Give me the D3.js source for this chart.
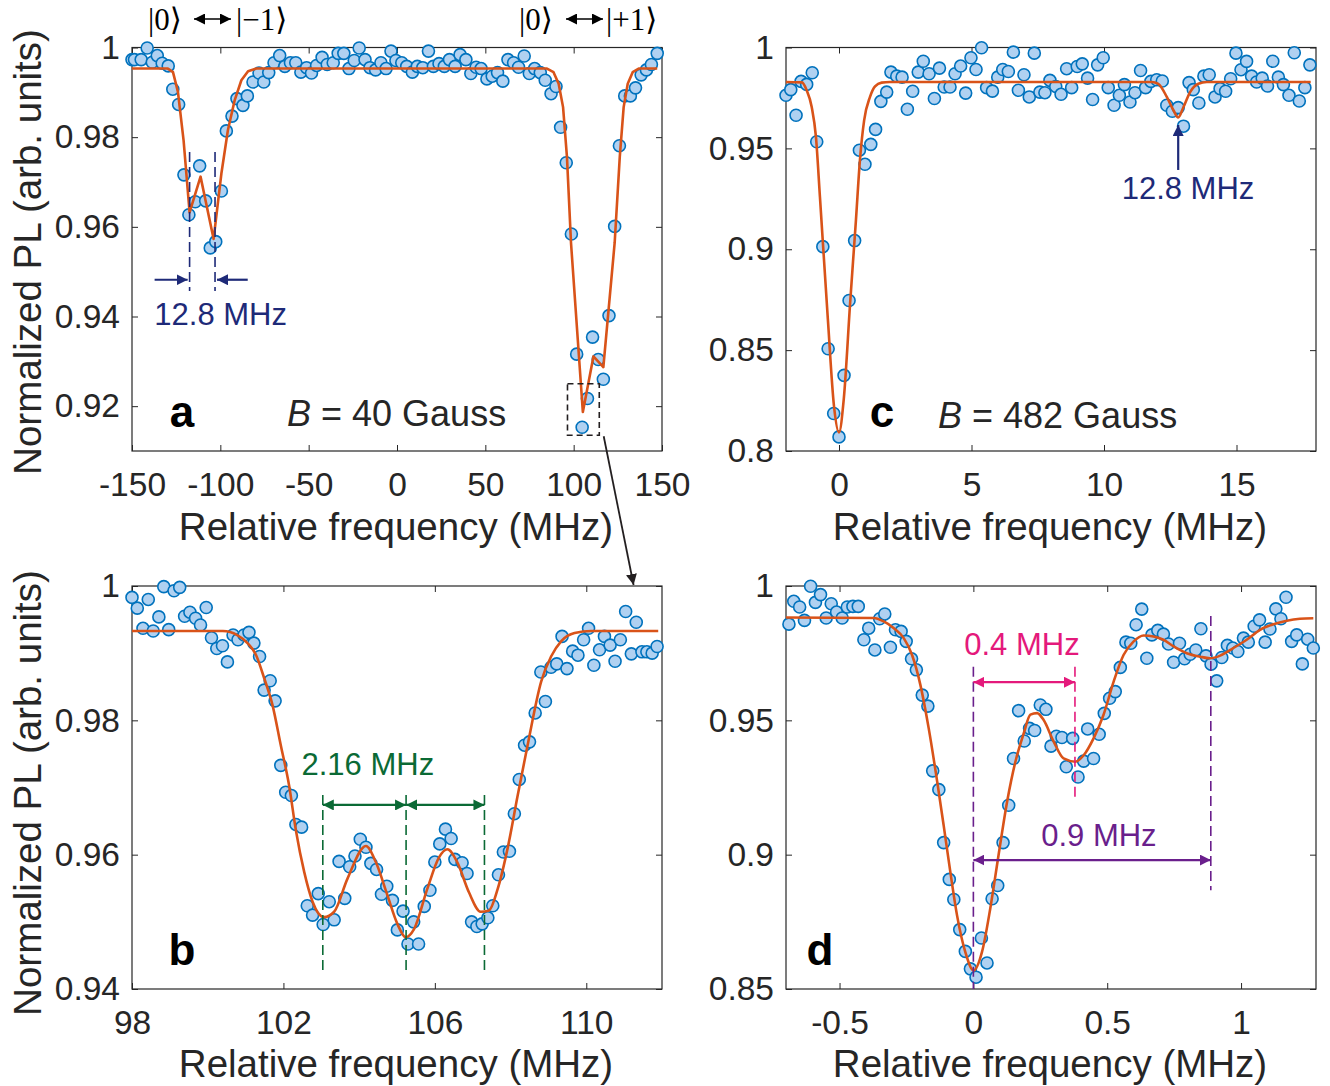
<!DOCTYPE html>
<html>
<head>
<meta charset="utf-8">
<title>ODMR spectra, four panels</title>
<script src="https://d3js.org/d3.v7.min.js"></script>
<style>
body { margin: 0; background: #fff; font-family: 'Liberation Sans', Arial, sans-serif; }
.axis text { font-family: 'Liberation Sans', Arial, sans-serif; font-size: 33.5px; fill: #262626; }
.axis line { stroke: #262626; stroke-width: 1; }
</style>
</head>
<body>
<div id="chart"></div>
<script>
// ---------- data ----------
// panel a : B = 40 G, full spectrum
var aFreq = [-150.0,-148.6,-144.8,-141.4,-138.5,-135.7,-132.9,-129.5,-126.9,-123.6,-120.6,-117.8,-114.2,-111.7,-108.3,-105.7,-102.6,-99.4,-96.6,-93.4,-90.6,-87.2,-84.7,-81.5,-78.1,-75.4,-72.6,-69.6,-66.4,-63.5,-60.3,-57.3,-54.4,-51.2,-48.4,-45.5,-42.4,-39.5,-36.1,-33.3,-30.1,-27.2,-24.2,-21.4,-18.1,-15.3,-12.1,-9.1,-6.2,-3.4,-0.6,2.7,5.5,8.7,11.5,14.6,17.8,20.6,23.8,26.8,29.7,32.9,35.7,39.0,41.8,44.8,47.6,50.9,53.9,56.9,59.9,62.8,66.0,68.8,72.0,74.9,77.9,81.1,83.9,87.2,90.0,92.6,95.8,98.7,101.7,104.8,107.8,110.7,113.9,116.8,120.0,123.2,125.9,128.9,132.1,135.0,138.2,141.2,144.0,147.3];
var aPL = [0.9973,0.9973,0.9973,0.9999,0.9967,0.9982,0.9965,0.9959,0.9907,0.9873,0.9716,0.9627,0.9656,0.9736,0.9658,0.9553,0.9567,0.968,0.9814,0.9847,0.9886,0.9871,0.9892,0.9923,0.9943,0.9923,0.9944,0.9966,0.9982,0.9958,0.9966,0.9966,0.9945,0.9955,0.9943,0.996,0.9978,0.9962,0.9966,0.9987,0.9987,0.9953,0.9971,0.9999,0.9973,0.9955,0.995,0.9966,0.9953,0.9992,0.9971,0.9966,0.9958,0.9945,0.9958,0.9955,0.9992,0.9958,0.9964,0.9958,0.9973,0.9958,0.9984,0.9973,0.9942,0.9956,0.9953,0.993,0.9936,0.9944,0.9925,0.9973,0.9966,0.9956,0.9981,0.9942,0.9953,0.9944,0.9927,0.9897,0.9913,0.9822,0.9743,0.9584,0.9316,0.9153,0.9217,0.9354,0.9304,0.926,0.9402,0.9601,0.9781,0.9892,0.9892,0.991,0.9939,0.995,0.9962,0.9987];
var aFitFreq = [-150,-129.7,-126.8,-124,-120.8,-117.4,-111.2,-103.8,-99.4,-95.7,-91.9,-88.1,-84.3,-79.6,84.9,88.6,91.5,94,96.2,98.5,105.2,111.2,116.8,123.2,126.1,128.3,130.6,133.4,136.8,147.3];
var aFitPL = [0.9953,0.9953,0.9945,0.9901,0.9793,0.9632,0.9712,0.9573,0.9719,0.9816,0.9882,0.9927,0.9947,0.9953,0.9953,0.9945,0.9919,0.9867,0.9756,0.9564,0.9187,0.9311,0.9287,0.9564,0.9756,0.9867,0.9919,0.9945,0.9953,0.9953];

// panel b : zoom on the |0> <-> |+1> line
var bFreq = [98.0,98.14,98.29,98.43,98.56,98.71,98.84,98.97,99.11,99.26,99.39,99.53,99.68,99.81,99.96,100.1,100.24,100.39,100.52,100.67,100.8,100.96,101.09,101.22,101.37,101.49,101.65,101.78,101.93,102.06,102.21,102.33,102.48,102.63,102.77,102.92,103.05,103.21,103.34,103.47,103.62,103.75,103.89,104.03,104.18,104.31,104.46,104.59,104.73,104.88,105.01,105.16,105.29,105.44,105.57,105.72,105.87,106.0,106.13,106.28,106.43,106.53,106.72,106.85,106.97,107.11,107.25,107.4,107.53,107.68,107.81,107.97,108.1,108.23,108.37,108.5,108.65,108.8,108.92,109.07,109.22,109.36,109.49,109.64,109.78,109.93,110.06,110.2,110.35,110.48,110.63,110.76,110.9,111.04,111.19,111.32,111.47,111.6,111.74,111.87];
var bPL = [0.9983,0.9967,0.9937,0.998,0.9933,0.9954,0.9999,0.9935,0.9993,0.9998,0.9955,0.9961,0.9952,0.9942,0.9968,0.9923,0.9907,0.9911,0.9887,0.9927,0.992,0.9927,0.9931,0.9915,0.9895,0.9845,0.9859,0.9829,0.9733,0.9693,0.9688,0.9645,0.9641,0.9524,0.951,0.9542,0.9496,0.953,0.9503,0.959,0.9535,0.9582,0.9598,0.9623,0.9611,0.9587,0.9578,0.9541,0.9553,0.9532,0.9488,0.9516,0.9467,0.95,0.9467,0.9523,0.9547,0.9589,0.9616,0.9638,0.9624,0.9593,0.9588,0.9572,0.95,0.9493,0.9497,0.9506,0.9524,0.957,0.9604,0.9605,0.9661,0.9712,0.9763,0.9768,0.9811,0.9872,0.9828,0.9879,0.9884,0.9925,0.9877,0.9903,0.9897,0.992,0.9937,0.9882,0.9905,0.9925,0.9912,0.9888,0.992,0.9962,0.9899,0.9946,0.9902,0.9902,0.99,0.991];
var bFitFreq = [98,100.4,100.78,101.05,101.27,101.49,101.71,101.93,102.15,102.33,102.55,102.77,103.07,103.34,103.69,104.18,104.44,104.75,105.01,105.23,105.45,105.8,106.11,106.33,106.59,106.9,107.21,107.43,107.66,107.92,108.19,108.45,108.81,109.07,109.34,109.69,110.13,111.9];
var bFitPL = [0.9933,0.9933,0.9927,0.9915,0.9898,0.9863,0.9823,0.9763,0.9703,0.9636,0.9574,0.953,0.9507,0.9515,0.9564,0.9613,0.9589,0.9539,0.9497,0.9477,0.9489,0.9549,0.9596,0.9608,0.9589,0.9544,0.9515,0.9517,0.9549,0.9609,0.9689,0.9763,0.9858,0.9895,0.9918,0.993,0.9933,0.9933];

// panel c : B = 482 G
var cFreq = [-2.0,-1.82,-1.62,-1.43,-1.22,-1.01,-0.84,-0.61,-0.41,-0.2,0,0.19,0.38,0.59,0.77,0.98,1.2,1.38,1.58,1.8,1.96,2.18,2.38,2.58,2.78,2.99,3.18,3.4,3.6,3.79,3.97,4.19,4.38,4.59,4.78,4.98,5.17,5.38,5.57,5.79,5.99,6.18,6.39,6.58,6.77,6.98,7.18,7.37,7.58,7.77,7.96,8.18,8.38,8.59,8.78,8.99,9.18,9.38,9.57,9.76,9.97,10.16,10.38,10.58,10.77,10.98,11.17,11.38,11.57,11.77,11.99,12.2,12.37,12.58,12.8,13.0,13.21,13.37,13.58,13.77,13.97,14.19,14.38,14.59,14.78,14.98,15.17,15.38,15.57,15.76,15.97,16.17,16.37,16.58,16.77,16.98,17.18,17.37,17.58,17.77];
var cPL = [0.9763,0.9791,0.9664,0.9832,0.9817,0.9875,0.9533,0.9013,0.8507,0.8186,0.807,0.8375,0.8746,0.9043,0.9491,0.9421,0.952,0.9594,0.9733,0.9779,0.9878,0.9858,0.9853,0.9694,0.9783,0.9878,0.9932,0.987,0.9747,0.9898,0.9804,0.9804,0.987,0.9908,0.9774,0.9949,0.9891,0.9999,0.9801,0.9784,0.9853,0.9891,0.9881,0.9977,0.9788,0.9865,0.9755,0.9972,0.9779,0.9776,0.9837,0.9807,0.9768,0.9895,0.9801,0.9906,0.9919,0.9848,0.9742,0.9914,0.9949,0.9801,0.9714,0.9763,0.9816,0.973,0.9776,0.9886,0.9801,0.9832,0.984,0.9834,0.9714,0.9684,0.9702,0.961,0.9826,0.9791,0.9725,0.9858,0.9865,0.9755,0.9796,0.9783,0.9845,0.9972,0.989,0.9931,0.9858,0.9829,0.9848,0.9809,0.9932,0.9853,0.9816,0.9763,0.9974,0.9735,0.9801,0.9914];
var cFitFreq = [-2,-1.4,-1.22,-1.03,-0.87,-0.72,-0.42,-0.19,0,0.18,0.42,0.64,0.79,0.95,1.17,1.36,1.61,1.92,11.8,12.05,12.37,12.62,12.8,13.0,13.25,13.56,13.88,17.8];
var cFitPL = [0.9829,0.9827,0.9788,0.9705,0.9557,0.9261,0.8652,0.8224,0.8092,0.8257,0.8734,0.9146,0.9442,0.964,0.9755,0.9807,0.9826,0.9829,0.9829,0.982,0.9755,0.9689,0.9653,0.9705,0.9779,0.982,0.9829,0.9829];

// panel d : zoom on the central line at 482 G
var dFreq = [-0.689,-0.671,-0.649,-0.631,-0.608,-0.59,-0.571,-0.55,-0.531,-0.511,-0.49,-0.471,-0.45,-0.43,-0.409,-0.391,-0.368,-0.35,-0.331,-0.31,-0.291,-0.27,-0.251,-0.231,-0.213,-0.191,-0.17,-0.152,-0.129,-0.111,-0.09,-0.073,-0.051,-0.03,-0.011,0.01,0.03,0.051,0.07,0.091,0.111,0.132,0.15,0.169,0.19,0.21,0.229,0.25,0.271,0.29,0.31,0.331,0.347,0.371,0.391,0.412,0.427,0.449,0.47,0.489,0.509,0.53,0.549,0.57,0.588,0.608,0.629,0.648,0.667,0.689,0.71,0.729,0.748,0.77,0.789,0.81,0.831,0.85,0.869,0.888,0.909,0.928,0.949,0.969,0.988,1.009,1.027,1.049,1.069,1.09,1.108,1.13,1.149,1.168,1.189,1.208,1.229,1.249,1.27];
var dPL = [0.9858,0.9943,0.9922,0.9872,0.9999,0.9939,0.9968,0.9881,0.9934,0.9903,0.9881,0.9922,0.9924,0.9924,0.98,0.9843,0.9762,0.9878,0.9896,0.9772,0.9837,0.9831,0.9794,0.9729,0.9688,0.9594,0.9553,0.9312,0.9242,0.9045,0.8908,0.8833,0.8721,0.864,0.8575,0.8544,0.869,0.8597,0.8836,0.8885,0.9045,0.9184,0.9358,0.9536,0.9423,0.947,0.9462,0.9557,0.9541,0.9404,0.9441,0.9436,0.9327,0.9433,0.9289,0.9348,0.9468,0.9358,0.9448,0.9526,0.9582,0.9607,0.9697,0.9791,0.9787,0.9856,0.9914,0.9731,0.9818,0.9835,0.9821,0.9784,0.9716,0.9787,0.9729,0.9746,0.9762,0.9841,0.974,0.9709,0.9647,0.9734,0.9779,0.9769,0.9756,0.9806,0.9791,0.985,0.9874,0.9791,0.984,0.9915,0.9878,0.9958,0.9794,0.9818,0.971,0.9802,0.9769];
var dFitFreq = [-0.7,-0.372,-0.335,-0.297,-0.26,-0.229,-0.198,-0.167,-0.135,-0.111,-0.086,-0.061,-0.03,0.001,0.032,0.063,0.094,0.126,0.157,0.188,0.213,0.238,0.262,0.3,0.337,0.381,0.412,0.449,0.486,0.524,0.561,0.598,0.636,0.673,0.71,0.748,0.797,0.847,0.884,0.922,0.971,1.021,1.071,1.121,1.171,1.22,1.27];
var dFitPL = [0.9883,0.9881,0.9868,0.9843,0.9806,0.9743,0.9632,0.9471,0.9271,0.9109,0.8935,0.8774,0.8637,0.8569,0.8637,0.8799,0.8998,0.9197,0.9346,0.9451,0.9521,0.9527,0.9502,0.9421,0.9358,0.9346,0.937,0.9433,0.952,0.9644,0.9743,0.9793,0.9816,0.9812,0.98,0.9775,0.975,0.9737,0.9731,0.9741,0.9769,0.98,0.9837,0.9858,0.9871,0.9878,0.988];

// tick values
var aXTicks = [-150,-100,-50,0,50,100,150], aYTicks = [0.92,0.94,0.96,0.98,1];
var bXTicks = [98,102,106,110], bYTicks = [0.94,0.96,0.98,1];
var cXTicks = [0,5,10,15], cYTicks = [0.8,0.85,0.9,0.95,1];
var dXTicks = [-0.5,0,0.5,1], dYTicks = [0.85,0.9,0.95,1];

// ---------- drawing ----------
var svg = d3.select("#chart").append("svg")
  .attr("width", 1330).attr("height", 1086)
  .style("font-family", "'Liberation Sans', Arial, sans-serif");

var ink = "#262626", blue = "#0072bd", fill = "#b0d1f1", orange = "#d95319";
var navy = "#1e2a78", green = "#0b6a35", pink = "#e4197b", purple = "#6a1f8c";

var defs = svg.append("defs");
function arrowMarker(id, color) {
  defs.append("marker").attr("id", id)
    .attr("viewBox", "0 0 10 10").attr("refX", 10).attr("refY", 5)
    .attr("markerUnits", "userSpaceOnUse").attr("markerWidth", 11).attr("markerHeight", 11)
    .attr("orient", "auto-start-reverse")
    .append("path").attr("d", "M0,0L10,5L0,10z").attr("fill", color);
}
arrowMarker("ar-navy", navy);
arrowMarker("ar-green", green);
arrowMarker("ar-pink", pink);
arrowMarker("ar-purple", purple);
arrowMarker("ar-black", "#231f20");
arrowMarker("ar-hdr", "#000");

function fmt(d) { return String(d); }

function panel(p) {
  var x = d3.scaleLinear().domain(p.xDomain).range([p.left, p.right]);
  var y = d3.scaleLinear().domain(p.yDomain).range([p.bottom, p.top]);
  var g = svg.append("g");

  g.append("g").attr("class", "axis").attr("transform", "translate(0," + p.bottom + ")")
    .call(d3.axisBottom(x).tickValues(p.xTicks).tickFormat(fmt).tickSizeInner(-6).tickSizeOuter(0).tickPadding(21))
    .call(function(s) { s.select(".domain").remove(); });
  g.append("g").attr("class", "axis").attr("transform", "translate(0," + p.top + ")")
    .call(d3.axisTop(x).tickValues(p.xTicks).tickFormat("").tickSizeInner(-6).tickSizeOuter(0))
    .call(function(s) { s.select(".domain").remove(); });
  g.append("g").attr("class", "axis").attr("transform", "translate(" + p.left + ",0)")
    .call(d3.axisLeft(y).tickValues(p.yTicks).tickFormat(fmt).tickSizeInner(-6).tickSizeOuter(0).tickPadding(12))
    .call(function(s) { s.select(".domain").remove(); });
  g.append("g").attr("class", "axis").attr("transform", "translate(" + p.right + ",0)")
    .call(d3.axisRight(y).tickValues(p.yTicks).tickFormat("").tickSizeInner(-6).tickSizeOuter(0))
    .call(function(s) { s.select(".domain").remove(); });

  g.append("rect")
    .attr("x", p.left).attr("y", p.top)
    .attr("width", p.right - p.left).attr("height", p.bottom - p.top)
    .attr("fill", "none").attr("stroke", ink).attr("stroke-width", 1.2);

  // measured points
  g.selectAll("circle.pt")
    .data(d3.zip(p.freq, p.pl))
    .enter().append("circle")
    .attr("class", "pt")
    .attr("cx", function(d) { return x(d[0]); })
    .attr("cy", function(d) { return y(d[1]); })
    .attr("r", 6)
    .attr("fill", fill).attr("stroke", blue).attr("stroke-width", 1.6);

  // fit
  var line = d3.line()
    .x(function(d) { return x(d[0]); })
    .y(function(d) { return y(d[1]); })
    .curve(p.curve);
  g.append("path")
    .datum(d3.zip(p.fitFreq, p.fitPL))
    .attr("fill", "none").attr("stroke", orange).attr("stroke-width", 2.6)
    .attr("stroke-linejoin", "round")
    .attr("d", line);

  return { g: g, x: x, y: y, p: p };
}

function dashV(P, f, v0, v1, color) {
  P.g.append("line")
    .attr("x1", P.x(f)).attr("x2", P.x(f))
    .attr("y1", P.y(v0)).attr("y2", P.y(v1))
    .attr("stroke", color).attr("stroke-width", 1.6).attr("stroke-dasharray", "10,5");
}
function arrow(P, f0, v0, f1, v1, color, id, both) {
  var l = P.g.append("line")
    .attr("x1", P.x(f0)).attr("y1", P.y(v0))
    .attr("x2", P.x(f1)).attr("y2", P.y(v1))
    .attr("stroke", color).attr("stroke-width", 2.2)
    .attr("marker-end", "url(#" + id + ")");
  if (both) l.attr("marker-start", "url(#" + id + ")");
}
function label(P, f, v, txt, color, size, anchor) {
  P.g.append("text")
    .attr("x", P.x(f)).attr("y", P.y(v))
    .attr("text-anchor", anchor || "middle")
    .attr("font-size", size).attr("fill", color)
    .text(txt);
}
function panelLetter(P, dx, dy, letter) {
  P.g.append("text")
    .attr("x", P.p.left + dx).attr("y", P.p.bottom - dy)
    .attr("text-anchor", "middle")
    .attr("font-size", 44).attr("font-weight", "bold").attr("fill", "#000")
    .text(letter);
}
function fieldLabel(P, dx, dy, gauss) {
  var t = P.g.append("text")
    .attr("x", P.p.left + dx).attr("y", P.p.bottom - dy)
    .attr("font-size", 36).attr("fill", ink);
  t.append("tspan").attr("font-style", "italic").text("B");
  t.append("tspan").text(" = " + gauss + " Gauss");
}

var L = 132, R = 662, L2 = 786, R2 = 1316;
var T1 = 47.5, B1 = 451, T2 = 586, B2 = 989;

var A = panel({ left: L, right: R, top: T1, bottom: B1, xDomain: [-150, 150], yDomain: [0.91, 1],
  xTicks: aXTicks, yTicks: aYTicks, freq: aFreq, pl: aPL, fitFreq: aFitFreq, fitPL: aFitPL, curve: d3.curveLinear });
var C = panel({ left: L2, right: R2, top: T1, bottom: B1, xDomain: [-2, 18], yDomain: [0.8, 1],
  xTicks: cXTicks, yTicks: cYTicks, freq: cFreq, pl: cPL, fitFreq: cFitFreq, fitPL: cFitPL, curve: d3.curveMonotoneX });
var B = panel({ left: L, right: R, top: T2, bottom: B2, xDomain: [98, 112], yDomain: [0.94, 1],
  xTicks: bXTicks, yTicks: bYTicks, freq: bFreq, pl: bPL, fitFreq: bFitFreq, fitPL: bFitPL, curve: d3.curveMonotoneX });
var D = panel({ left: L2, right: R2, top: T2, bottom: B2, xDomain: [-0.7, 1.28], yDomain: [0.85, 1],
  xTicks: dXTicks, yTicks: dYTicks, freq: dFreq, pl: dPL, fitFreq: dFitFreq, fitPL: dFitPL, curve: d3.curveMonotoneX });

// panel a annotations
dashV(A, -117.4, 0.9767, 0.9457, navy);
dashV(A, -103.0, 0.9767, 0.9457, navy);
arrow(A, -137.2, 0.9482, -118.5, 0.9482, navy, "ar-navy");
arrow(A, -84.5, 0.9482, -101.9, 0.9482, navy, "ar-navy");
label(A, -99.8, 0.9381, "12.8 MHz", navy, 31);
A.g.append("rect")
  .attr("x", A.x(96.5)).attr("y", A.y(0.925))
  .attr("width", A.x(114.5) - A.x(96.5)).attr("height", A.y(0.9135) - A.y(0.925))
  .attr("fill", "none").attr("stroke", "#231f20").attr("stroke-width", 1.6).attr("stroke-dasharray", "6,4");
svg.append("line")
  .attr("x1", A.x(117)).attr("y1", A.y(0.9133))
  .attr("x2", B.x(111.25)).attr("y2", B.y(1) - 1)
  .attr("stroke", "#231f20").attr("stroke-width", 1.8)
  .attr("marker-end", "url(#ar-black)");
panelLetter(A, 50, 24, "a");
fieldLabel(A, 155, 25, "40");

// panel c annotations
arrow(C, 12.8, 0.9393, 12.8, 0.9616, navy, "ar-navy");
label(C, 13.17, 0.9249, "12.8 MHz", navy, 31);
panelLetter(C, 96, 24, "c");
fieldLabel(C, 152, 23, "482");

// panel b annotations
[103.04, 105.24, 107.31].forEach(function(f) { dashV(B, f, 0.9689, 0.9428, green); });
arrow(B, 103.04, 0.9674, 105.24, 0.9674, green, "ar-green", true);
arrow(B, 105.24, 0.9674, 107.31, 0.9674, green, "ar-green", true);
label(B, 104.23, 0.9719, "2.16 MHz", green, 31);
panelLetter(B, 50, 24, "b");

// panel d annotations
dashV(D, 0, 0.9699, 0.85, purple);
dashV(D, 0.887, 0.9888, 0.8868, purple);
dashV(D, 0.3795, 0.9699, 0.9211, pink);
arrow(D, 0, 0.9642, 0.3795, 0.9642, pink, "ar-pink", true);
arrow(D, 0, 0.898, 0.887, 0.898, purple, "ar-purple", true);
label(D, 0.1815, 0.9745, "0.4 MHz", pink, 31);
label(D, 0.469, 0.9032, "0.9 MHz", purple, 31);
panelLetter(D, 34, 24, "d");

// axis titles
[[396, 540], [1050, 540], [396, 1077], [1050, 1077]].forEach(function(c) {
  svg.append("text").attr("x", c[0]).attr("y", c[1])
    .attr("text-anchor", "middle").attr("font-size", 38.5).attr("fill", ink)
    .text("Relative frequency (MHz)");
});
[252, 793].forEach(function(cy) {
  svg.append("text")
    .attr("transform", "translate(41," + cy + ") rotate(-90)")
    .attr("text-anchor", "middle").attr("font-size", 38.5).attr("fill", ink)
    .text("Normalized PL (arb. units)");
});

// transition labels above panel a
function ketPair(x0, other, ax0, ax1, x1) {
  var serif = "'Liberation Serif', 'DejaVu Serif', serif";
  svg.append("text").attr("x", x0).attr("y", 30).attr("font-size", 31)
    .attr("font-family", serif).attr("fill", "#000").text("|0\u27E9");
  svg.append("line").attr("x1", ax0).attr("x2", ax1).attr("y1", 19).attr("y2", 19)
    .attr("stroke", "#000").attr("stroke-width", 1.5)
    .attr("marker-start", "url(#ar-hdr)").attr("marker-end", "url(#ar-hdr)");
  svg.append("text").attr("x", x1).attr("y", 30).attr("font-size", 31)
    .attr("font-family", serif).attr("fill", "#000").text(other);
}
ketPair(148, "|\u22121\u27E9", 194, 231, 236);
ketPair(519, "|+1\u27E9", 566, 603, 606);
</script>
</body>
</html>
